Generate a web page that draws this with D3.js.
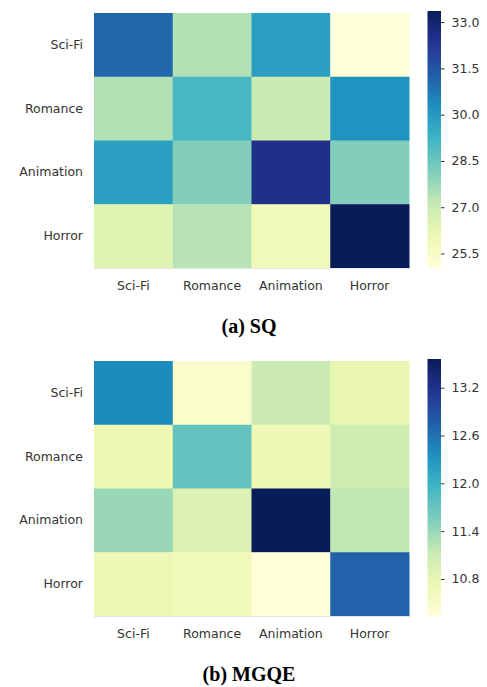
<!DOCTYPE html>
<html>
<head>
<meta charset="utf-8">
<script src="https://cdn.jsdelivr.net/npm/d3@7"></script>
<style>
  body { margin: 0; background: #fff; }
</style>
</head>
<body>
<svg id="chart" width="487" height="687"></svg>
<script>
// genres, same order on both axes
const genres = ["Sci-Fi", "Romance", "Animation", "Horror"];

// (a) SQ, rows top to bottom
const sqValues = [
    [31.1, 27.4, 29.85, 25.03],
    [27.4, 29.1, 27.0, 30.15],
    [29.85, 28.1, 32.5, 28.1],
    [26.45, 27.35, 25.85, 33.36]
];
const sqTicks = [25.5, 27.0, 28.5, 30.0, 31.5, 33.0];

// (b) MGQE
const mgqeValues = [
    [12.4, 10.47, 11.09, 10.79],
    [10.72, 11.72, 10.69, 11.06],
    [11.4, 10.92, 13.56, 11.17],
    [10.71, 10.66, 10.335, 12.72]
];
const mgqeTicks = [10.8, 11.4, 12.0, 12.6, 13.2];

const titles = ["(a) SQ", "(b) MGQE"];

const svg = d3.select("#chart");
const ylgnbu = d3.piecewise(d3.interpolateRgb, d3.schemeYlGnBu[9]);

function heatmap(values, ticks, title, top, idx) {
    let x = d3.scaleBand().domain(genres).range([94, 409]);
    let y = d3.scaleBand().domain(genres).range([top, top + 255]);
    let ext = d3.extent(values.flat());
    let color = d3.scaleSequential(ylgnbu).domain(ext);
    let g = svg.append("g");

    let cells = [];
    values.forEach((row, i) => row.forEach((v, j) => cells.push({ r: genres[i], c: genres[j], v: v })));
    g.selectAll("rect.cell").data(cells).join("rect")
        .attr("class", "cell")
        .attr("x", d => x(d.c))
        .attr("y", d => y(d.r))
        .attr("width", x.bandwidth() + 0.5)
        .attr("height", y.bandwidth() + 0.5)
        .attr("fill", d => color(d.v));

    // faint bottom spine
    g.append("line")
        .attr("x1", 94).attr("x2", 409)
        .attr("y1", top + 255.5).attr("y2", top + 255.5)
        .attr("stroke", "#e4e4ea").attr("stroke-width", 1);

    let xAxis = g.append("g").attr("transform", `translate(0,${top + 255})`)
        .call(d3.axisBottom(x).tickSize(0).tickPadding(13));
    let yAxis = g.append("g").attr("transform", "translate(94,0)")
        .call(d3.axisLeft(y).tickSize(0).tickPadding(11));
    [xAxis, yAxis].forEach(a => {
        a.select(".domain").remove();
        a.selectAll("text").attr("font-size", 12.5).attr("fill", "#333")
            .attr("font-family", "DejaVu Sans");
    });

    // colorbar
    let cbTop = top - 2, cbBot = top + 255;
    let cy = d3.scaleLinear().domain(ext).range([cbBot, cbTop]);
    let gradId = "grad" + idx;
    let grad = svg.append("defs").append("linearGradient")
        .attr("id", gradId).attr("x1", 0).attr("x2", 0).attr("y1", 1).attr("y2", 0);
    d3.range(0, 1.0001, 0.05).forEach(t => {
        grad.append("stop").attr("offset", t).attr("stop-color", ylgnbu(t));
    });
    g.append("rect")
        .attr("x", 427.5).attr("y", cbTop)
        .attr("width", 13.5).attr("height", cbBot - cbTop)
        .attr("fill", `url(#${gradId})`);
    let cAxis = g.append("g").attr("transform", "translate(441,0)")
        .call(d3.axisRight(cy).tickValues(ticks).tickFormat(d3.format(".1f")).tickSize(3.5).tickPadding(7));
    cAxis.select(".domain").remove();
    cAxis.selectAll("line").attr("stroke", "#333").attr("stroke-width", 1);
    cAxis.selectAll("text").attr("font-size", 12.5).attr("fill", "#333")
        .attr("font-family", "DejaVu Sans");

    svg.append("text")
        .attr("x", 249).attr("y", top + 320)
        .attr("text-anchor", "middle")
        .style("font-family", "'Liberation Serif', serif")
        .style("font-weight", "bold")
        .style("font-size", "20px")
        .attr("fill", "#000")
        .text(title);
}

heatmap(sqValues, sqTicks, titles[0], 13, 0);
heatmap(mgqeValues, mgqeTicks, titles[1], 361, 1);
</script>
</body>
</html>
